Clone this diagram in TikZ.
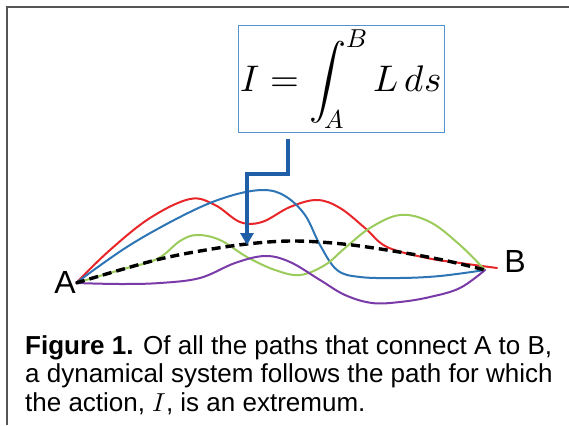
\documentclass[tikz,border=0pt]{standalone}
\usepackage{fontspec}
\usepackage{unicode-math}
\setmainfont{Liberation Sans}
\setmathfont{Latin Modern Math}
\usetikzlibrary{arrows.meta}
\definecolor{framegray}{HTML}{555555}
\definecolor{boxblue}{HTML}{5393CF}
\definecolor{arrblue}{HTML}{1F5FA8}
\definecolor{cred}{HTML}{E8262A}
\definecolor{cblue}{HTML}{2E75B6}
\definecolor{cgreen}{HTML}{9BCB5A}
\definecolor{cpurple}{HTML}{7A3BA8}
\tikzset{
  pathline/.style={line width=2pt, line cap=round, line join=round},
  dashline/.style={line width=3.4pt, dash pattern=on 9pt off 5pt, black},
  ptlabel/.style={font=\fontsize{32}{32}\selectfont, inner sep=0pt},
  arr/.style={arrblue, line width=3.5pt, -{Triangle[width=13pt,length=12pt]}},
}
\begin{document}
\begin{tikzpicture}[x=1pt,y=-1pt]
\useasboundingbox (0,0) rectangle (569,425);
\fill[white] (0,0) rectangle (569,425);
% frame
\draw[framegray, line width=2pt] (7,425) -- (7,7) -- (569,7);
% formula box
\node[draw=boxblue, line width=1.3pt, minimum width=206pt, minimum height=107pt, inner sep=0pt,
      font=\fontsize{37}{42}\selectfont] (formula) at (341.5,79) {$\displaystyle I=\int_A^B L\,ds$};
% endpoints
\coordinate (pA) at (76,283);
\coordinate (pB) at (485,270);
\node[ptlabel] (A) at (65,282) {A};
\node[ptlabel] (B) at (515,261) {B};
% curves
\draw[pathline, cred] plot[smooth, tension=0.6] coordinates {(pA) (110,250) (150,218) (190,199) (215,205) (240,222) (262,222) (290,207) (317,200) (340,208) (365,228) (387,247) (427,258) (460,263) (497,268)};
\draw[pathline, cblue] plot[smooth, tension=0.6] coordinates {(pA) (130,245) (190,212) (230,196) (263,190) (285,196) (305,215) (320,245) (337,270) (360,277) (400,278) (440,276) (pB)};
\draw[pathline, cgreen] plot[smooth, tension=0.6] coordinates {(pA) (120,270) (157,259) (180,241) (197,235) (220,240) (247,257) (275,270) (300,275) (325,265) (345,248) (370,228) (400,215) (430,222) (460,245) (pB)};
\draw[pathline, cpurple] plot[smooth, tension=0.6] coordinates {(pA) (120,284) (160,283) (200,278) (235,263) (265,256) (290,262) (320,280) (345,295) (372,303) (400,302) (430,297) (460,288) (pB)};
\draw[dashline] plot[smooth, tension=0.6] coordinates {(pA) (120,270) (160,259) (200,251) (247,244) (293,241) (343,244) (393,251) (443,260) (pB)};
% arrow
\coordinate (tip) at (247,245);
\draw[arr] ([xshift=-53.5pt,yshift=-6pt]formula.south) |- (247,174) -- (tip);
% caption
\node[anchor=north west, align=left, inner sep=0pt, font=\fontsize{26}{28.5}\selectfont] (cap) at (25,335)
  {\textbf{Figure 1.} Of all the paths that connect A to B,\\
   a dynamical system follows the path for which\\
   the action, $I$, is an extremum.};
\end{tikzpicture}
\end{document}
